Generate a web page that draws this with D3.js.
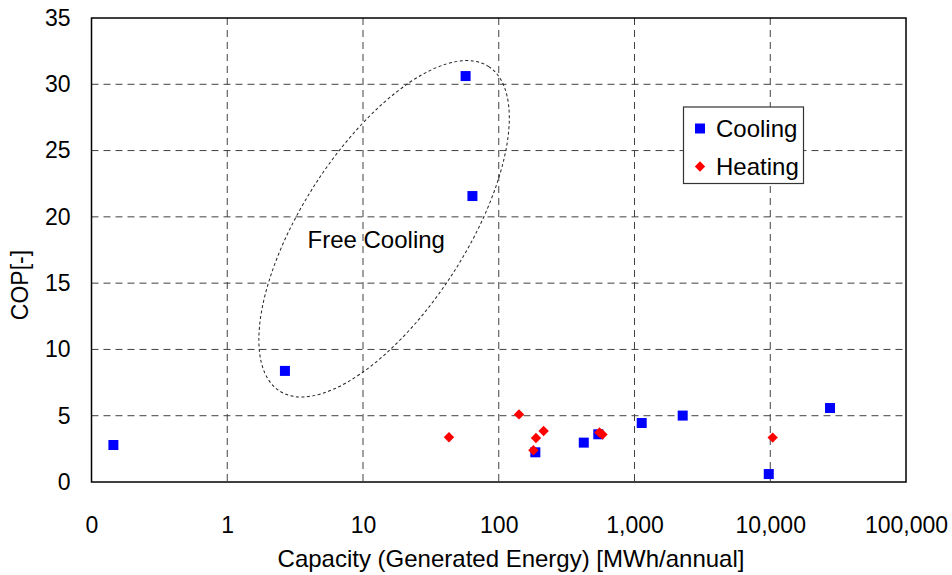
<!DOCTYPE html>
<html>
<head>
<meta charset="utf-8">
<script src="https://cdn.jsdelivr.net/npm/d3@7"></script>
<style>
  html, body { margin: 0; padding: 0; background: #fff; }
  svg { display: block; font-family: "Liberation Sans", Arial, sans-serif; }
</style>
</head>
<body>
<svg id="chart" width="952" height="575"></svg>
<script>
// ---- data ----
const coolingX = [0.145, 2.66, 57, 64, 186, 423, 541, 1130, 2265, 9750, 27560];
const coolingY = [2.79, 8.38, 30.62, 21.57, 2.24, 2.97, 3.6, 4.45, 5.01, 0.6, 5.58];
const heatingX = [43, 141, 180, 188, 214, 552, 581, 10420];
const heatingY = [3.37, 5.1, 2.39, 3.32, 3.85, 3.73, 3.58, 3.35];
const xTickValues = [0.1, 1, 10, 100, 1000, 10000, 100000];
const xTickLabels = ["0", "1", "10", "100", "1,000", "10,000", "100,000"];
const yTickValues = [0, 5, 10, 15, 20, 25, 30, 35];
const seriesNames = ["Cooling", "Heating"];
const annotationText = "Free Cooling";
const ellipseCenter = [14.3, 19.1]; // data coords
const xTitle = "Capacity (Generated Energy) [MWh/annual]";
const yTitle = "COP[-]";

// ---- layout ----
const L = 91.5, R = 906, T = 18, B = 482;
const svg = d3.select("#chart");
const x = d3.scaleLog().domain([0.1, 100000]).range([L, R]);
const y = d3.scaleLinear().domain([0, 35]).range([B, T]);
const FS = 23, FS2 = 24;

// grid
const grid = svg.append("g").attr("stroke", "#404040").attr("stroke-width", 1)
  .attr("stroke-dasharray", "7,5").attr("fill", "none");
grid.selectAll("line.h").data(yTickValues.filter(v => v > 0 && v < 35)).join("line")
  .attr("x1", L).attr("x2", R).attr("y1", d => y(d)).attr("y2", d => y(d));
grid.selectAll("line.v").data(xTickValues.filter(v => v > 0.1 && v < 100000)).join("line")
  .attr("y1", T).attr("y2", B).attr("x1", d => x(d)).attr("x2", d => x(d));

// frame
svg.append("rect").attr("x", L).attr("y", T).attr("width", R - L).attr("height", B - T)
  .attr("fill", "none").attr("stroke", "#000").attr("stroke-width", 1.5);

// axes
const xAxis = d3.axisBottom(x).tickValues(xTickValues)
  .tickFormat((d, i) => xTickLabels[i]).tickSize(0).tickPadding(35);
const gx = svg.append("g").attr("transform", `translate(0,${B})`).call(xAxis);
const yAxis = d3.axisLeft(y).tickValues(yTickValues).tickFormat(d3.format("d"))
  .tickSize(0).tickPadding(21);
const gy = svg.append("g").attr("transform", `translate(${L},0)`).call(yAxis);
[gx, gy].forEach(g => {
  g.select(".domain").remove();
  g.selectAll("text").attr("font-size", FS).attr("fill", "#000")
    .attr("font-family", '"Liberation Sans", Arial, sans-serif');
});

// axis titles
svg.append("text").attr("x", 511).attr("y", 567.3).attr("text-anchor", "middle")
  .attr("font-size", FS2).text(xTitle);
svg.append("text").attr("transform", "translate(27.5,285) rotate(-90)")
  .attr("text-anchor", "middle").attr("font-size", FS).text(yTitle);

// ellipse annotation
svg.append("ellipse")
  .attr("cx", 0).attr("cy", 0).attr("rx", 193).attr("ry", 82)
  .attr("transform", `translate(${x(ellipseCenter[0])},${y(ellipseCenter[1])}) rotate(-57.2)`)
  .attr("fill", "none").attr("stroke", "#222").attr("stroke-width", 1)
  .attr("stroke-dasharray", "3,2.5");
svg.append("text").attr("x", 307.5).attr("y", 247.7).attr("font-size", FS2)
  .text(annotationText);

// points
const cooling = coolingX.map((v, i) => [v, coolingY[i]]);
const heating = heatingX.map((v, i) => [v, heatingY[i]]);
const sq = 10, dm = 5.2;
svg.append("g").selectAll("rect").data(cooling).join("rect")
  .attr("x", d => x(d[0]) - sq / 2).attr("y", d => y(d[1]) - sq / 2)
  .attr("width", sq).attr("height", sq).attr("fill", "#0000FF");
const diamond = (cx, cy) => `M${cx},${cy - dm}L${cx + dm},${cy}L${cx},${cy + dm}L${cx - dm},${cy}Z`;
svg.append("g").selectAll("path").data(heating).join("path")
  .attr("d", d => diamond(x(d[0]), y(d[1]))).attr("fill", "#FF0000");

// legend
const lg = svg.append("g");
lg.append("rect").attr("x", 683.5).attr("y", 107).attr("width", 120).attr("height", 76.5)
  .attr("fill", "#fff").attr("stroke", "#333").attr("stroke-width", 1.2);
lg.append("rect").attr("x", 700 - sq / 2).attr("y", 128.5 - sq / 2).attr("width", sq).attr("height", sq)
  .attr("fill", "#0000FF");
lg.append("path").attr("d", diamond(700, 166.5)).attr("fill", "#FF0000");
lg.append("text").attr("x", 716).attr("y", 136.5).attr("font-size", FS2).text(seriesNames[0]);
lg.append("text").attr("x", 716).attr("y", 175).attr("font-size", FS2).text(seriesNames[1]);
</script>
</body>
</html>
